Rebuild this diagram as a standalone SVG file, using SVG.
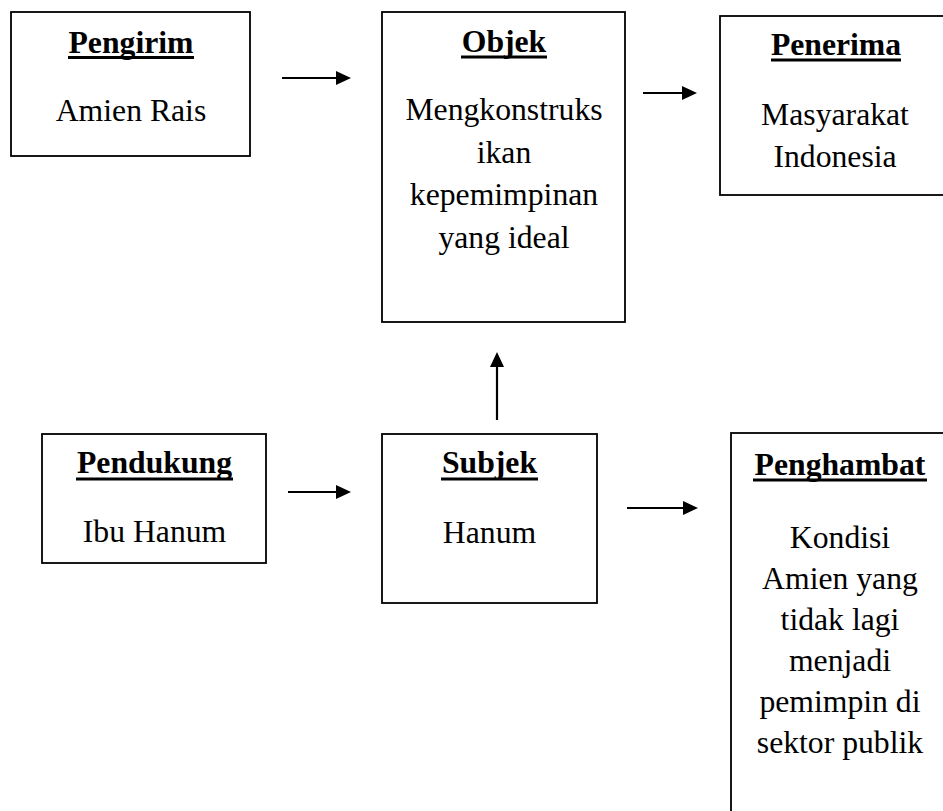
<svg xmlns="http://www.w3.org/2000/svg" width="943" height="811" viewBox="0 0 943 811">
<style>
.box{fill:#fff;stroke:#000;stroke-width:1.8}
.t{font-family:"Liberation Serif","Times New Roman",serif;font-size:31.7px;fill:#000;text-anchor:middle}
.h{font-weight:bold}
.ul{stroke:#000;stroke-width:2.8}
.c{stroke:#000;stroke-width:2.2;fill:none;marker-end:url(#ah)}
</style>
<defs>
<marker id="ah" viewBox="0 0 15 14" refX="10" refY="7" markerWidth="15" markerHeight="14" markerUnits="userSpaceOnUse" orient="auto">
<path d="M0,0 L15,7 L0,14 z" fill="#000"/>
</marker>
</defs>
<rect width="943" height="811" fill="#fff"/>
<g id="pengirim">
<rect class="box" x="11" y="12" width="239" height="144"/>
<text class="t h" x="131" y="53">Pengirim</text>
<line class="ul" x1="68" y1="57.5" x2="194" y2="57.5"/>
<text class="t" x="131" y="121">Amien Rais</text>
</g>
<g id="objek">
<rect class="box" x="382" y="12" width="243" height="310"/>
<text class="t h" x="504" y="52">Objek</text>
<line class="ul" x1="461" y1="57" x2="547" y2="57"/>
<text class="t" x="504" y="120">Mengkonstruks</text>
<text class="t" x="504" y="162.5">ikan</text>
<text class="t" x="504" y="205">kepemimpinan</text>
<text class="t" x="504" y="247.5">yang ideal</text>
</g>
<g id="penerima">
<rect class="box" x="720" y="16" width="232" height="179"/>
<text class="t h" x="836" y="55">Penerima</text>
<line class="ul" x1="771" y1="60" x2="901" y2="60"/>
<text class="t" x="835" y="125">Masyarakat</text>
<text class="t" x="835" y="167">Indonesia</text>
</g>
<g id="pendukung">
<rect class="box" x="42" y="434" width="224" height="129"/>
<text class="t h" x="154.5" y="473">Pendukung</text>
<line class="ul" x1="76" y1="479" x2="233" y2="479"/>
<text class="t" x="154.5" y="542">Ibu Hanum</text>
</g>
<g id="subjek">
<rect class="box" x="382" y="434" width="215" height="169"/>
<text class="t h" x="489.5" y="473">Subjek</text>
<line class="ul" x1="441" y1="479" x2="538" y2="479"/>
<text class="t" x="489.5" y="543">Hanum</text>
</g>
<g id="penghambat">
<rect class="box" x="731" y="433" width="220" height="400"/>
<text class="t h" x="840" y="475">Penghambat</text>
<line class="ul" x1="753" y1="480" x2="927" y2="480"/>
<text class="t" x="840" y="548">Kondisi</text>
<text class="t" x="840" y="589">Amien yang</text>
<text class="t" x="840" y="630">tidak lagi</text>
<text class="t" x="840" y="671">menjadi</text>
<text class="t" x="840" y="712">pemimpin di</text>
<text class="t" x="840" y="753">sektor publik</text>
</g>
<g id="connectors">
<line class="c" x1="282" y1="78" x2="346" y2="78"/>
<line class="c" x1="643" y1="93" x2="692" y2="93"/>
<line class="c" x1="497" y1="420" x2="497" y2="357"/>
<line class="c" x1="288" y1="492" x2="346" y2="492"/>
<line class="c" x1="627" y1="508" x2="693" y2="508"/>
</g>
</svg>
